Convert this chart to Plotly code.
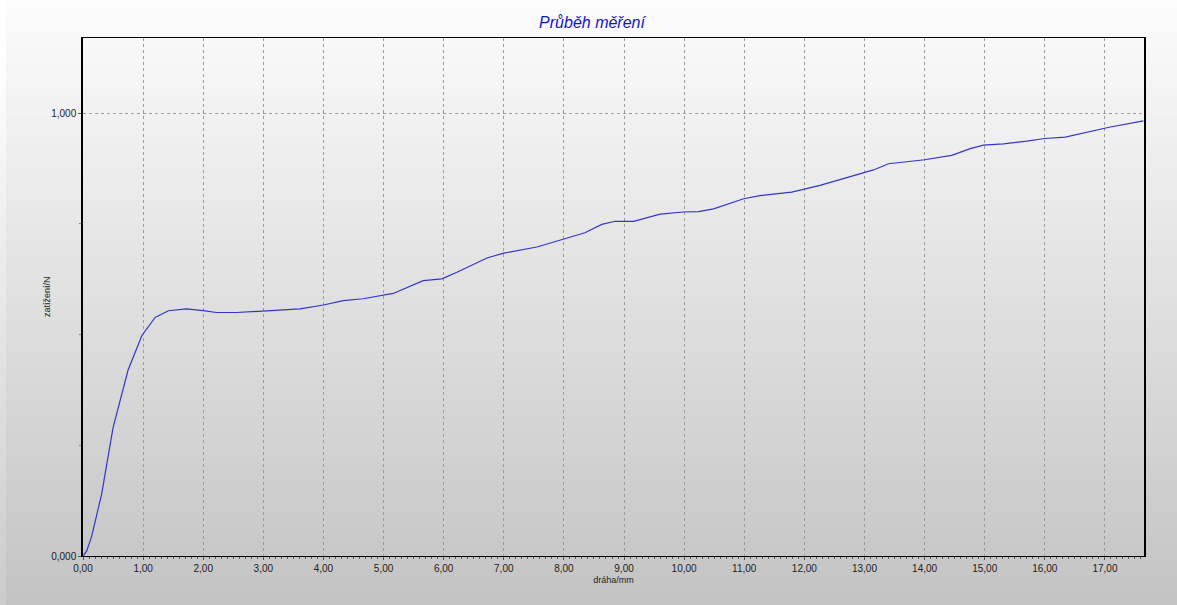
import plotly.graph_objects as go

# --- data ---
draha_mm = [0, 0.06, 0.145, 0.31, 0.5, 0.62, 0.75, 0.98, 1.2, 1.42, 1.72, 2.0, 2.22, 2.56,
            3.0, 3.61, 4.0, 4.33, 4.66, 5.0, 5.16, 5.66, 5.97, 6.22, 6.72, 7.0, 7.28, 7.55,
            8.0, 8.35, 8.63, 8.85, 9.16, 9.6, 9.99, 10.24, 10.49, 10.99, 11.26, 11.79, 12.26,
            12.6, 13.0, 13.15, 13.4, 13.7, 14.0, 14.45, 14.76, 14.98, 15.31, 15.7, 16.0,
            16.34, 16.59, 16.87, 17.09, 17.64]
zatizeni_N = [0, 0.011, 0.045, 0.14, 0.29, 0.355, 0.42, 0.498, 0.539, 0.554, 0.558, 0.554,
              0.55, 0.55, 0.554, 0.558, 0.567, 0.577, 0.581, 0.59, 0.593, 0.622, 0.626, 0.641,
              0.673, 0.684, 0.692, 0.698, 0.716, 0.73, 0.749, 0.756, 0.756, 0.772, 0.777,
              0.778, 0.784, 0.807, 0.814, 0.822, 0.837, 0.851, 0.866, 0.872, 0.886, 0.89,
              0.895, 0.905, 0.92, 0.928, 0.931, 0.937, 0.943, 0.946, 0.954, 0.963, 0.969, 0.983]

title_text = "Průběh měření"
x_title = "dráha/mm"
y_title = "zatížení/N"

W, H = 1177, 605
ML, MR, MT, MB = 83, 33, 38, 49
plot_w = W - ML - MR
plot_h = H - MT - MB


def px_to_paper_x(px):
    return (px - ML) / plot_w


def px_to_paper_y(py):
    return (H - MB - py) / plot_h


# background vertical gradient as thin bands
shapes = []
n_bands = 80
top_c, bot_c = 252, 195
for i in range(n_bands):
    y0p = H * i / n_bands
    y1p = H * (i + 1) / n_bands + 1
    t = (i + 0.5) / n_bands
    c = round(top_c + (bot_c - top_c) * t)
    cl = min(255, c + 8)
    shapes.append(dict(type="rect", xref="paper", yref="paper", layer="below",
                       x0=px_to_paper_x(0), x1=px_to_paper_x(W),
                       y0=px_to_paper_y(y1p), y1=px_to_paper_y(y0p),
                       fillcolor=f"rgb({cl},{cl},{cl})", line=dict(width=0)))
    shapes.append(dict(type="rect", xref="paper", yref="paper", layer="below",
                       x0=px_to_paper_x(6), x1=px_to_paper_x(W),
                       y0=px_to_paper_y(y1p), y1=px_to_paper_y(y0p),
                       fillcolor=f"rgb({c},{c},{c})", line=dict(width=0)))

fig = go.Figure()
fig.add_trace(go.Scatter(x=draha_mm, y=zatizeni_N, mode="lines",
                         line=dict(color="#3535cc", width=1.2), showlegend=False))

font_fam = "Liberation Sans, Arial, sans-serif"
tick_font = dict(family=font_fam, size=10, color="#222222")
grid_col = "#9c9c9c"

fig.update_layout(
    width=W, height=H,
    margin=dict(l=ML, r=MR, t=MT, b=MB),
    paper_bgcolor="#c8c8c8",
    plot_bgcolor="rgba(0,0,0,0)",
    separators=", ",
    shapes=shapes,
    title=dict(text=f"<i>{title_text}</i>", x=0.503, xanchor="center", y=0.963, yanchor="middle",
               font=dict(family=font_fam, size=16, color="#1414cc")),
    xaxis=dict(range=[0, 17.65], dtick=1, tick0=0, tickformat=".2f",
               showgrid=True, gridcolor=grid_col, griddash="3px,3px", gridwidth=1,
               showline=True, linecolor="black", linewidth=1, mirror=True,
               ticks="outside", ticklen=3, tickcolor="#555555",
               minor=dict(dtick=0.1, ticks="outside", ticklen=2, tickcolor="#555555", showgrid=False),
               tickfont=tick_font, zeroline=False,
               title=dict(text=x_title, standoff=3,
                          font=dict(family=font_fam, size=9, color="#222222"))),
    yaxis=dict(range=[0, 1.17], dtick=1, tick0=0, tickformat=".3f",
               showgrid=True, gridcolor=grid_col, griddash="3px,3px", gridwidth=1,
               showline=True, linecolor="black", linewidth=1.5, mirror=True,
               ticks="outside", ticklen=3, tickcolor="#555555",
               minor=dict(dtick=0.25, ticks="outside", ticklen=2, tickcolor="#888888", showgrid=False),
               tickfont=tick_font, zeroline=False),
    annotations=[dict(text=y_title, xref="paper", yref="paper",
                      x=px_to_paper_x(47), y=0.5, xanchor="center", yanchor="middle",
                      textangle=-90, showarrow=False,
                      font=dict(family=font_fam, size=9, color="#222222"))],
)

fig.write_html("out.html", config={"displayModeBar": False},
               post_script="document.body.style.margin='0';document.body.style.overflow='hidden';")
